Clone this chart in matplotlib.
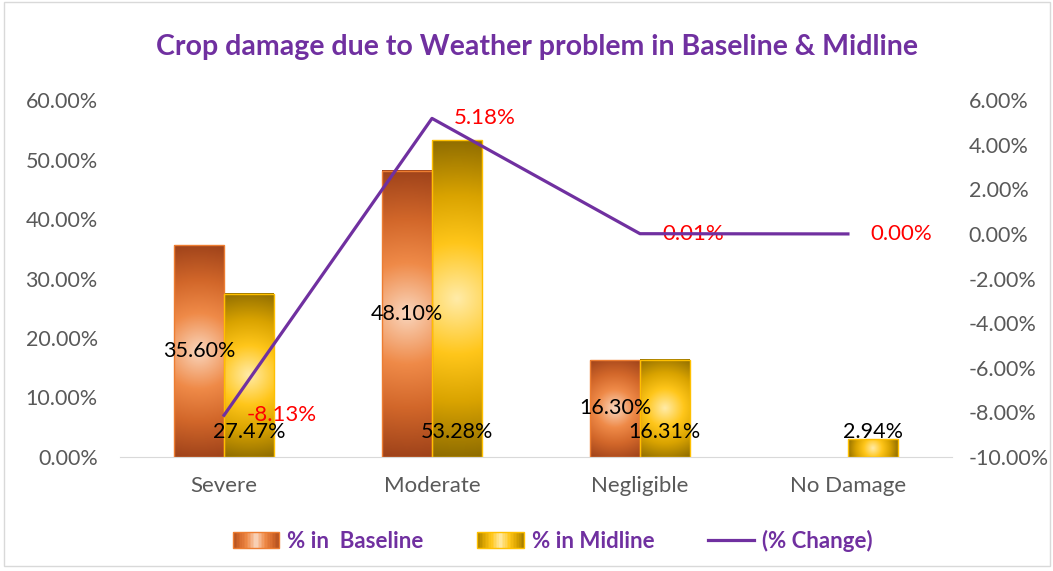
import numpy as np
import matplotlib
matplotlib.use('Agg')
import matplotlib.pyplot as plt
from matplotlib.colors import LinearSegmentedColormap
from matplotlib.patches import Rectangle
from matplotlib.lines import Line2D
from matplotlib.legend_handler import HandlerBase

# Data (percent values)
categories = ['Severe', 'Moderate', 'Negligible', 'No Damage']
baseline = [35.60, 48.10, 16.30, 0.0]
midline = [27.47, 53.28, 16.31, 2.94]
change = [-8.13, 5.18, 0.01, 0.00]

plt.rcParams['font.family'] = ['Lato', 'DejaVu Sans']

purple = '#7030A0'
gray = '#595959'

base_cmap = LinearSegmentedColormap.from_list(
    'base', [(0, '#F9D5BC'), (0.35, '#EF8A48'), (0.65, '#D2672A'), (1, '#9E421A')])
mid_cmap = LinearSegmentedColormap.from_list(
    'mid', [(0, '#FFEBA8'), (0.35, '#FFC61A'), (0.65, '#D9A300'), (1, '#8E6C00')])

fig = plt.figure(figsize=(10.53, 5.71), dpi=100)
ax = fig.add_axes([0.114, 0.1997, 0.79, 0.625])
ax2 = ax.twinx()

x = np.arange(len(categories))
w = 0.24
px_x, px_y = 208, 5.95  # approx pixels per unit, used to keep gradient round


def grad_bar(xc, h, cmap, edge):
    if h <= 0:
        return
    ax.bar(xc, h, w, color='none', edgecolor=edge, linewidth=1, zorder=3)
    hw, hh = w / 2 * px_x, h / 2 * px_y
    U, V = np.meshgrid(np.linspace(-hw, hw, 200), np.linspace(-hh, hh, 200))
    D = np.sqrt(U ** 2 + V ** 2) / np.hypot(hw, hh)
    ax.imshow(D, cmap=cmap, vmin=0, vmax=1, extent=[xc - w / 2, xc + w / 2, 0, h],
              aspect='auto', origin='lower', interpolation='bilinear', zorder=2)


for i in range(len(categories)):
    grad_bar(x[i] - w / 2, baseline[i], base_cmap, '#ED7D31')
    grad_bar(x[i] + w / 2, midline[i], mid_cmap, '#FFC000')
    if baseline[i] > 0:
        ax.text(x[i] - w / 2, baseline[i] / 2, f'{baseline[i]:.2f}%', ha='center', va='center',
                fontsize=15.5, color='black', zorder=5)
    ax.annotate(f'{midline[i]:.2f}%', (x[i] + w / 2, 0), xytext=(0, 18), textcoords='offset points',
                ha='center', va='center', fontsize=15.5, color='black', zorder=5)

ax.set_xlim(-0.5, 3.5)
ax.set_ylim(0, 60)
ax.set_yticks(np.arange(0, 61, 10))
ax.set_yticklabels([f'{v:.2f}%' for v in np.arange(0, 61, 10)])
ax.set_xticks(x)
ax.set_xticklabels(categories)
ax.tick_params(axis='both', length=0, labelsize=15.5, labelcolor=gray)
ax.tick_params(axis='y', pad=16)
ax.tick_params(axis='x', pad=14, labelsize=16)
for s in ['top', 'left', 'right']:
    ax.spines[s].set_visible(False)
ax.spines['bottom'].set_color('#D9D9D9')

ax2.plot(x, change, color=purple, linewidth=2.3, zorder=4)
for i in range(len(categories)):
    ax2.annotate(f'{change[i]:.2f}%', (x[i], change[i]), xytext=(16, 0), textcoords='offset points',
                 ha='left', va='center', fontsize=16, color='red')
ax2.set_ylim(-10, 6)
ax2.set_yticks(np.arange(-10, 7, 2))
ax2.set_yticklabels([f'{v:.2f}%' for v in np.arange(-10, 7, 2)])
ax2.tick_params(axis='y', length=0, labelsize=15.5, labelcolor=gray, pad=12)
for s in ax2.spines.values():
    s.set_visible(False)

fig.suptitle('Crop damage due to Weather problem in Baseline & Midline', x=0.51, y=0.94,
             fontsize=20.5, fontweight='bold', color=purple)


class GradHandler(HandlerBase):
    def __init__(self, cmap, edge):
        super().__init__()
        self.cmap, self.edge = cmap, edge

    def create_artists(self, legend, orig_handle, xdescent, ydescent, width, height, fontsize, trans):
        arts = []
        n = 30
        for k in range(n):
            t = abs((k + 0.5) / n * 2 - 1) * 0.9
            arts.append(Rectangle((-xdescent + k * width / n, -ydescent), width / n, height,
                                  facecolor=self.cmap(t), edgecolor='none', transform=trans))
        arts.append(Rectangle((-xdescent, -ydescent), width, height, facecolor='none',
                              edgecolor=self.edge, lw=1, transform=trans))
        return arts


h_base = Rectangle((0, 0), 1, 1)
h_mid = Rectangle((0, 0), 1, 1)
h_line = Line2D([], [], color=purple, linewidth=2.3)
leg = fig.legend([h_base, h_mid, h_line], ['% in  Baseline', '% in Midline', '(% Change)'],
                 loc='center', bbox_to_anchor=(0.525, 1 - 541 / 571), ncol=3, frameon=False,
                 handlelength=2.1, handleheight=0.7, handletextpad=0.36, columnspacing=2.4,
                 prop={'weight': 'bold', 'size': 16},
                 handler_map={h_base: GradHandler(base_cmap, '#ED7D31'),
                              h_mid: GradHandler(mid_cmap, '#FFC000')})
for t in leg.get_texts():
    t.set_color(purple)

fig.patches.append(Rectangle((0.004, 0.008), 0.993, 0.988, transform=fig.transFigure,
                             facecolor='none', edgecolor='#D9D9D9', lw=1))

fig.savefig('out.png', dpi=100)
